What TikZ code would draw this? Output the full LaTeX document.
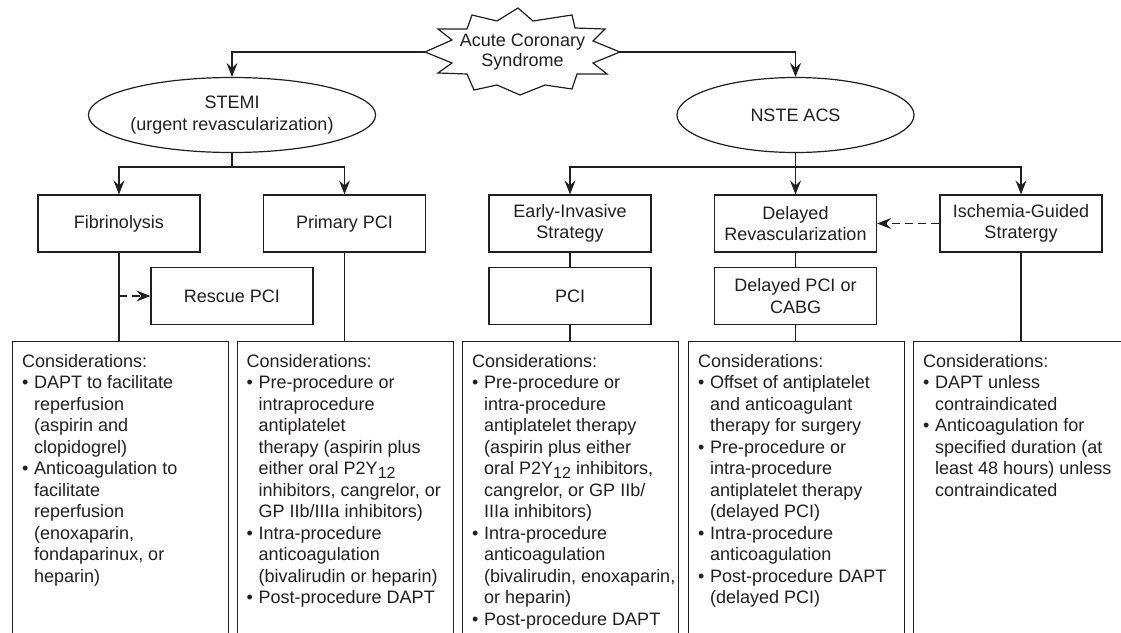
\documentclass[tikz,border=0pt]{standalone}
\usepackage{fontspec}
\setmainfont{Liberation Sans}
\usetikzlibrary{arrows.meta,shapes.geometric}
\definecolor{ink}{RGB}{35,31,32}
\newcommand\bl{\makebox[12pt][l]{\textbullet}}
\newcommand\ct{\makebox[12pt][l]{}}
\newcommand\pyy{P2Y\raisebox{-4pt}{\fontsize{16}{16}\selectfont 12}}
\begin{document}
\begin{tikzpicture}[x=1pt,y=-1pt,
  every node/.style={font=\fontsize{18}{21.5}\selectfont, text=ink},
  ln/.style={draw=ink, line width=1.2pt},
  arr/.style={ln, -{Stealth[length=14pt,width=11pt,inset=5pt]}},
  darr/.style={arr, dash pattern=on 8pt off 5pt},
  sbox/.style={draw=ink, line width=1.2pt, minimum width=162pt, minimum height=57pt, inner sep=0pt, align=center},
  oval/.style={ellipse, draw=ink, line width=1.2pt, minimum width=237pt, minimum height=75pt, inner sep=0pt, align=center},
  cbox/.style={draw=ink, line width=1.2pt, minimum width=216pt, minimum height=330pt, inner sep=0pt, anchor=north west},
  ctext/.style={anchor=north west, align=left, inner sep=0pt},
]
\useasboundingbox (0,0) rectangle (1121,632);
\clip (0,0) rectangle (1121,632);
\fill[white] (0,0) rectangle (1121,632);

% starburst
\draw[ln, line join=miter] (425,52) -- (452,40) -- (438,29) -- (467,29) -- (472,15) -- (497,21) -- (518,8) -- (533,21) -- (572,15) -- (575,28) -- (605,29) -- (593,41) -- (620,52) -- (593,63) -- (607,74) -- (577,74) -- (572,89) -- (545,85) -- (520,95) -- (497,85) -- (474,90) -- (467,74) -- (438,73) -- (452,63) -- cycle;
\node[minimum width=195pt, inner sep=0pt, align=center, font=\fontsize{18}{19.5}\selectfont] (acs) at (522.5,52) {Acute Coronary\\Syndrome};

% ovals
\node[oval] (stemi) at (232,115) {STEMI\\(urgent revascularization)};
\node[oval] (nste) at (795.5,115) {NSTE ACS};

% row 1
\node[sbox] (fib) at (119,223.5) {Fibrinolysis};
\node[sbox] (ppci) at (344.5,223.5) {Primary PCI};
\node[sbox] (early) at (570,223.5) {Early-Invasive\\Strategy};
\node[sbox] (delay) at (795.5,223.5) {Delayed\\Revascularization};
\node[sbox] (isch) at (1021,223.5) {Ischemia-Guided\\Stratergy};

% row 2
\node[sbox] (rescue) at (232,296) {Rescue PCI};
\node[sbox] (pci) at (570,296) {PCI};
\node[sbox] (dpci) at (795.5,296) {Delayed PCI or\\CABG};

% considerations boxes
\node[cbox] (c1) at (12,341) {};
\node[cbox] (c2) at (236.5,341) {};
\node[cbox] (c3) at (462,341) {};
\node[cbox] (c4) at (688,341) {};
\node[cbox] (c5) at (913,341) {};

\node[ctext] (t1) at (22,354) {Considerations:\\
\bl DAPT to facilitate\\
\ct reperfusion\\
\ct (aspirin and\\
\ct clopidogrel)\\
\bl Anticoagulation to\\
\ct facilitate\\
\ct reperfusion\\
\ct (enoxaparin,\\
\ct fondaparinux, or\\
\ct heparin)};

\node[ctext] (t2) at (246.5,354) {Considerations:\\
\bl Pre-procedure or\\
\ct intraprocedure\\
\ct antiplatelet\\
\ct therapy (aspirin plus\\
\ct either oral \pyy\\
\ct inhibitors, cangrelor, or\\
\ct GP IIb/IIIa inhibitors)\\
\bl Intra-procedure\\
\ct anticoagulation\\
\ct (bivalirudin or heparin)\\
\bl Post-procedure DAPT};

\node[ctext] (t3) at (472,354) {Considerations:\\
\bl Pre-procedure or\\
\ct intra-procedure\\
\ct antiplatelet therapy\\
\ct (aspirin plus either\\
\ct oral \pyy{} inhibitors,\\
\ct cangrelor, or GP IIb/\\
\ct IIIa inhibitors)\\
\bl Intra-procedure\\
\ct anticoagulation\\
\ct (bivalirudin, enoxaparin,\\
\ct or heparin)\\
\bl Post-procedure DAPT};

\node[ctext] (t4) at (698,354) {Considerations:\\
\bl Offset of antiplatelet\\
\ct and anticoagulant\\
\ct therapy for surgery\\
\bl Pre-procedure or\\
\ct intra-procedure\\
\ct antiplatelet therapy\\
\ct (delayed PCI)\\
\bl Intra-procedure\\
\ct anticoagulation\\
\bl Post-procedure DAPT\\
\ct (delayed PCI)};

\node[ctext] (t5) at (923,354) {Considerations:\\
\bl DAPT unless\\
\ct contraindicated\\
\bl Anticoagulation for\\
\ct specified duration (at\\
\ct least 48 hours) unless\\
\ct contraindicated};

% connectors
\draw[arr] (acs.west) -| (stemi.north);
\draw[arr] (acs.east) -| (nste.north);

\coordinate (sj) at (232,167);
\draw[ln] (stemi.south) -- (sj);
\draw[arr] (sj) -| (fib.north);
\draw[arr] (sj) -| (ppci.north);

\coordinate (nj) at (795.5,167);
\draw[ln] (nste.south) -- (nj);
\draw[arr] (nj) -| (early.north);
\draw[arr] (nj) -- (delay.north);
\draw[arr] (nj) -| (isch.north);

\draw[ln] (fib.south) -- (fib.south |- c1.north);
\coordinate (fr) at (fib.south |- rescue.west);
\draw[darr] (fr) -- (rescue.west);
\draw[ln] (ppci.south) -- (ppci.south |- c2.north);
\draw[ln] (early.south) -- (pci.north);
\draw[ln] (pci.south) -- (pci.south |- c3.north);
\draw[ln] (delay.south) -- (dpci.north);
\draw[ln] (dpci.south) -- (dpci.south |- c4.north);
\draw[ln] (isch.south) -- (isch.south |- c5.north);
\draw[darr] (isch.west) -- (delay.east);
\end{tikzpicture}
\end{document}
